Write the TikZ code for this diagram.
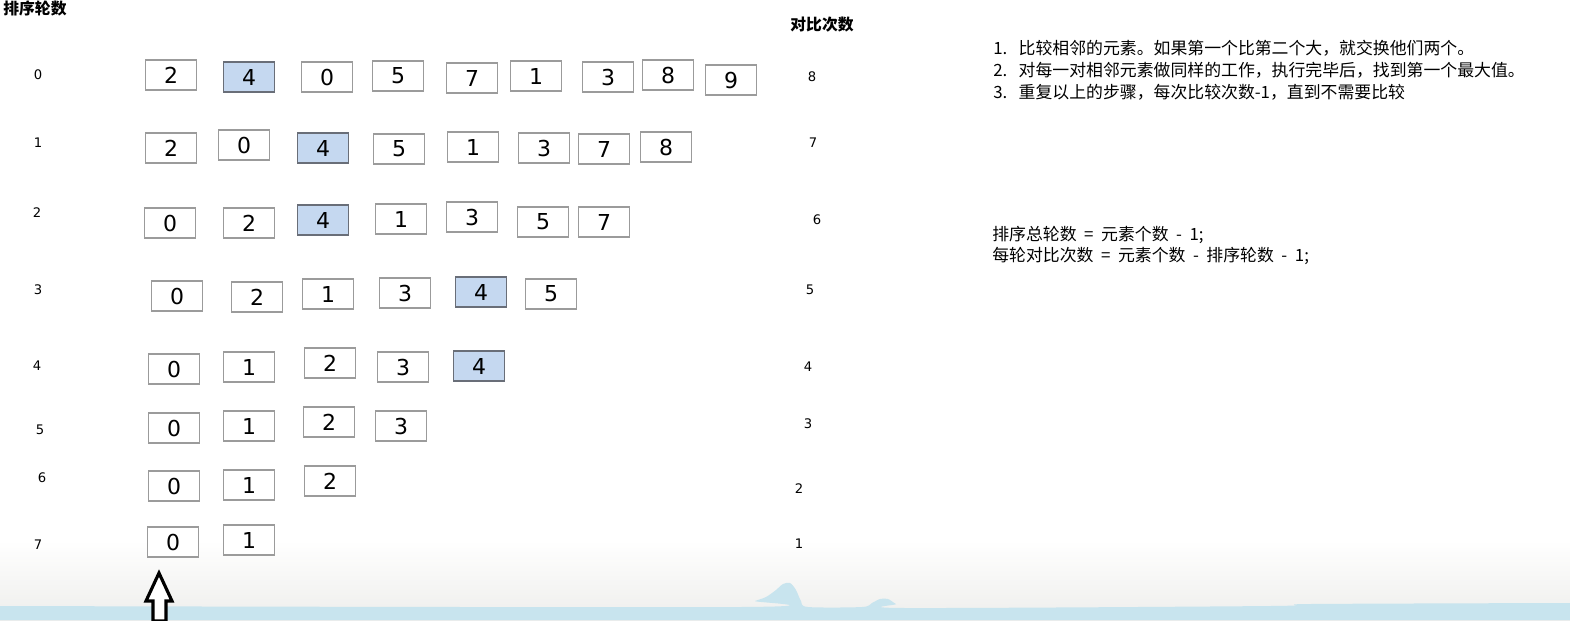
\documentclass[tikz,border=0pt]{standalone}
\usepackage{fontspec}
\setmainfont{DejaVu Sans}
\newfontfamily\cjk{Noto Sans CJK SC}
\usepackage{tikz}
\usetikzlibrary{arrows.meta,positioning,calc}
\definecolor{cellblue}{RGB}{197,216,240}
\definecolor{cellline}{RGB}{155,155,155}
\definecolor{hotline}{RGB}{105,110,120}
\definecolor{wavecol}{RGB}{200,228,238}
\definecolor{floorgray}{RGB}{238,238,236}

\begin{document}
\begin{tikzpicture}[x=0.02cm, y=-0.02cm,
  cell/.style={draw=cellline, fill=white, line width=1.1pt, minimum width=1.02cm, minimum height=0.6cm, inner sep=0pt, font=\fontsize{12.5}{12.5}\selectfont},
  hot/.style={cell, draw=hotline, fill=cellblue},
  rowlbl/.style={font=\fontsize{7.5}{8}\selectfont},
  head/.style={font=\cjk\bfseries\fontsize{9}{10}\selectfont},
  note/.style={anchor=west, inner sep=0pt, font=\cjk\fontsize{9.6}{10}\selectfont}]
  \useasboundingbox (0,0) rectangle (1570,620);
  \fill[white] (0,0) rectangle (1570,620);
  \shade[top color=white, bottom color=floorgray] (0,540) rectangle (1570,620);

  % headers
  \node[head, anchor=west, inner sep=0pt] (hround) at (3,8) {排序轮数};
  \node[head] (hcount) at (822,25) {对比次数};

  % round 0
  \node[rowlbl] (n0) at (38,75) {0};
  \node[cell] (r0a) at (171,75) {2};
  \node[hot]  (r0b) at (249,77) {4};
  \node[cell] (r0c) at (327,77) {0};
  \node[cell] (r0d) at (398,76) {5};
  \node[cell] (r0e) at (472,78) {7};
  \node[cell] (r0f) at (536,76) {1};
  \node[cell] (r0g) at (608,77) {3};
  \node[cell] (r0h) at (668,75) {8};
  \node[cell] (r0i) at (731,80) {9};
  \node[rowlbl] (c0) at (812,77) {8};

  % round 1
  \node[rowlbl] (n1) at (38,143) {1};
  \node[cell] (r1a) at (171,148) {2};
  \node[cell] (r1b) at (244,145) {0};
  \node[hot]  (r1c) at (323,148) {4};
  \node[cell] (r1d) at (399,149) {5};
  \node[cell] (r1e) at (473,147) {1};
  \node[cell] (r1f) at (544,148) {3};
  \node[cell] (r1g) at (604,149) {7};
  \node[cell] (r1h) at (666,147) {8};
  \node[rowlbl] (c1) at (813,143) {7};

  % round 2
  \node[rowlbl] (n2) at (37,213) {2};
  \node[cell] (r2a) at (170,223) {0};
  \node[cell] (r2b) at (249,223) {2};
  \node[hot]  (r2c) at (323,220) {4};
  \node[cell] (r2d) at (401,219) {1};
  \node[cell] (r2e) at (472,217) {3};
  \node[cell] (r2f) at (543,222) {5};
  \node[cell] (r2g) at (604,222) {7};
  \node[rowlbl] (c2) at (817,220) {6};

  % round 3
  \node[rowlbl] (n3) at (38,290) {3};
  \node[cell] (r3a) at (177,296) {0};
  \node[cell] (r3b) at (257,297) {2};
  \node[cell] (r3c) at (328,294) {1};
  \node[cell] (r3d) at (405,293) {3};
  \node[hot]  (r3e) at (481,292) {4};
  \node[cell] (r3f) at (551,294) {5};
  \node[rowlbl] (c3) at (810,290) {5};

  % round 4
  \node[rowlbl] (n4) at (37,366) {4};
  \node[cell] (r4a) at (174,369) {0};
  \node[cell] (r4b) at (249,367) {1};
  \node[cell] (r4c) at (330,363) {2};
  \node[cell] (r4d) at (403,367) {3};
  \node[hot]  (r4e) at (479,366) {4};
  \node[rowlbl] (c4) at (808,367) {4};

  % round 5
  \node[rowlbl] (n5) at (40,430) {5};
  \node[cell] (r5a) at (174,428) {0};
  \node[cell] (r5b) at (249,426) {1};
  \node[cell] (r5c) at (329,422) {2};
  \node[cell] (r5d) at (401,426) {3};
  \node[rowlbl] (c5) at (808,424) {3};

  % round 6
  \node[rowlbl] (n6) at (42,478) {6};
  \node[cell] (r6a) at (174,486) {0};
  \node[cell] (r6b) at (249,485) {1};
  \node[cell] (r6c) at (330,481) {2};
  \node[rowlbl] (c6) at (799,489) {2};

  % round 7
  \node[rowlbl] (n7) at (38,545) {7};
  \node[cell] (r7a) at (173,542) {0};
  \node[cell] (r7b) at (249,540) {1};
  \node[rowlbl] (c7) at (799,544) {1};

  % notes
  \node[note] (t1) at (993,48) {1.\ \ \ 比较相邻的元素。如果第一个比第二个大，就交换他们两个。};
  \node[note] (t2) at (993,70) {2.\ \ \ 对每一对相邻元素做同样的工作，执行完毕后，找到第一个最大值。};
  \node[note] (t3) at (993,92) {3.\ \ \ 重复以上的步骤，每次比较次数-1，直到不需要比较};
  \node[note] (f1) at (992,235) {排序总轮数\ \ =\ \ 元素个数\ \ -\ \ 1;};
  \node[note] (f2) at (992,256) {每轮对比次数\ \ =\ \ 元素个数\ \ -\ \ 排序轮数\ \ -\ \ 1;};

  % floor band
  \fill[wavecol] (0,620) -- (0,606)
    -- plot[smooth] coordinates {(0,606) (740,607) (755,601) (766,597) (776,590) (783,584) (790,583) (796,590) (801,601) (808,607) (862,607) (872,603) (880,599) (888,599) (896,604) (906,608) (1270,606) (1310,604) (1570,603)}
    -- (1570,620) -- cycle;

  % pointer
  \draw[line width=1.8pt, fill=white, line join=miter] (159,573) -- (172,601) -- (166,601) -- (166,621) -- (153,621) -- (153,601) -- (146,601) -- cycle;
\end{tikzpicture}
\end{document}
